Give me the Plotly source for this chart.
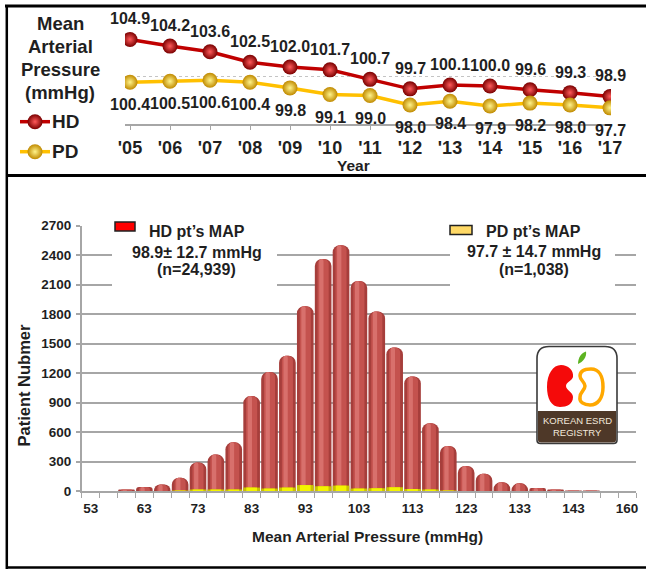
import plotly.graph_objects as go

W, H = 646, 570
FONT = "Liberation Sans, Arial, sans-serif"
INK = "#1f1f1f"
GRID = "#A6A6A6"

# ---- yearly mean arterial pressure (top panel) ----
years = [2005, 2006, 2007, 2008, 2009, 2010, 2011, 2012, 2013, 2014, 2015, 2016, 2017]
year_labels = ["'05", "'06", "'07", "'08", "'09", "'10", "'11", "'12", "'13", "'14", "'15", "'16", "'17"]
hd_map = [104.9, 104.2, 103.6, 102.5, 102.0, 101.7, 100.7, 99.7, 100.1, 100.0, 99.6, 99.3, 98.9]
pd_map = [100.4, 100.5, 100.6, 100.4, 99.8, 99.1, 99.0, 98.0, 98.4, 97.9, 98.2, 98.0, 97.7]

# ---- MAP distribution (bottom panel) ----
map_bins = ["53", "56", "60", "63", "66", "70", "73", "76", "80", "83", "86", "90", "93", "96",
            "100", "103", "106", "110", "113", "116", "120", "123", "126", "130", "133", "136",
            "140", "143", "146", "150", "160"]
labelled_bins = ["53", "63", "73", "83", "93", "103", "113", "123", "133", "143", "160"]
hd_counts = [0, 0, 15, 40, 65, 135, 290, 370, 495, 965, 1210, 1375, 1880, 2360,
             2500, 2135, 1825, 1460, 1165, 690, 458, 255, 175, 90, 78, 30,
             15, 5, 2, 0, 0]
pd_counts = [0, 0, 0, 0, 0, 5, 8, 10, 15, 35, 25, 35, 60, 48,
             55, 25, 28, 38, 20, 8, 4, 0, 0, 0, 0, 0,
             0, 0, 0, 0, 0]
count_ticks = list(range(0, 2701, 300))

hd_summary = ["HD pt\u2019s MAP", "98.9\u00b1 12.7 mmHg", "(n=24,939)"]
pd_summary = ["PD pt\u2019s MAP", "97.7 \u00b1 14.7 mmHg", "(n=1,038)"]


def fx(x):
    return x / W


def fy(y):
    return 1 - y / H


fig = go.Figure()

# top panel lines with sphere markers
fig.add_trace(go.Scatter(
    x=years, y=hd_map, mode="lines+markers", xaxis="x", yaxis="y",
    line=dict(color="#C00000", width=3.5),
    marker=dict(size=15, color="#7A0000", gradient=dict(type="radial", color="#FF5A5A"),
                line=dict(width=0)),
    hoverinfo="skip"))
fig.add_trace(go.Scatter(
    x=years, y=pd_map, mode="lines+markers", xaxis="x", yaxis="y",
    line=dict(color="#FFC000", width=3.5),
    marker=dict(size=15, color="#C08A00", gradient=dict(type="radial", color="#FFF38A"),
                line=dict(width=0)),
    hoverinfo="skip"))

# bottom panel: layered bars give a rounded cylinder look
def cyl(values, width, color, radius, offset=None):
    kw = dict(x=map_bins, y=values, xaxis="x2", yaxis="y2", width=width,
              marker=dict(color=color, cornerradius=radius, line=dict(width=0)),
              hoverinfo="skip")
    if offset is not None:
        kw["offset"] = offset
    return go.Bar(**kw)

fig.add_trace(cyl(hd_counts, 0.93, "#A63E3B", 7))
fig.add_trace(cyl(hd_counts, 0.62, "#C4524E", 6))
fig.add_trace(cyl(hd_counts, 0.24, "#D8706C", 3, offset=-0.22))
fig.add_trace(cyl(pd_counts, 0.93, "#C8C200", 3))
fig.add_trace(cyl(pd_counts, 0.6, "#F4F400", 2))

# legend spheres on a pixel canvas
fig.add_trace(go.Scatter(
    x=[35], y=[121.7], mode="markers", xaxis="x3", yaxis="y3",
    marker=dict(size=15, color="#7A0000", gradient=dict(type="radial", color="#FF5A5A")),
    hoverinfo="skip"))
fig.add_trace(go.Scatter(
    x=[35], y=[151.7], mode="markers", xaxis="x3", yaxis="y3",
    marker=dict(size=15, color="#C08A00", gradient=dict(type="radial", color="#FFF38A")),
    hoverinfo="skip"))

annotations = []
shapes = []


def text(x, y, s, size, xanchor="center", color=INK, bold=True, angle=0, **kw):
    annotations.append(dict(
        x=x, y=y, xref="x3", yref="y3", text=s, showarrow=False,
        xanchor=xanchor, yanchor="middle", textangle=angle,
        font=dict(family=FONT, size=size, color=color, weight="bold" if bold else "normal"),
        **kw))


# value labels on the yearly lines
for yr, v in zip(years, hd_map):
    annotations.append(dict(x=yr, y=v, xref="x", yref="y", text=f"{v:.1f}", showarrow=False,
                            yshift=20.5, font=dict(family=FONT, size=16, color=INK, weight="bold")))
for yr, v in zip(years, pd_map):
    annotations.append(dict(x=yr, y=v, xref="x", yref="y", text=f"{v:.1f}", showarrow=False,
                            yshift=-22.5, font=dict(family=FONT, size=16, color=INK, weight="bold")))

# top panel title block and legend
for s, yy in zip(["Mean", "Arterial", "Pressure", "(mmHg)"], [23, 46, 69.3, 92.5]):
    text(60, yy, s, 18.5)
text(50, 121.7, "HD", 19, xanchor="left")
text(50, 151.7, "PD", 19, xanchor="left")
shapes.append(dict(type="line", xref="x3", yref="y3", x0=20, x1=50, y0=121.7, y1=121.7,
                   line=dict(color="#C00000", width=3.5), layer="below"))
shapes.append(dict(type="line", xref="x3", yref="y3", x0=20, x1=50, y0=151.7, y1=151.7,
                   line=dict(color="#FFC000", width=3.5), layer="below"))
text(353, 165.5, "Year", 15.5)

# bottom panel axis titles
text(367.5, 536, "Mean Arterial Pressure (mmHg)", 15.5)
text(23.5, 385, "Patient Nubmer", 16.5, angle=-90)

# summary boxes over the grid
for x0, x1 in [(112, 277), (450, 615)]:
    shapes.append(dict(type="rect", xref="x3", yref="y3", x0=x0, x1=x1, y0=214, y1=292,
                       fillcolor="white", line=dict(width=0), layer="above"))
shapes.append(dict(type="rect", xref="x3", yref="y3", x0=115, x1=135, y0=222, y1=231,
                   fillcolor="#FF0000", line=dict(color="#202020", width=1.5), layer="above"))
shapes.append(dict(type="rect", xref="x3", yref="y3", x0=450, x1=472, y0=225.5, y1=234.5,
                   fillcolor="#FFD966", line=dict(color="#202020", width=1.5), layer="above"))
for s, yy in zip(hd_summary, [231, 252, 269.5]):
    text(196.5, yy, s, 16)
for s, yy in zip(pd_summary, [231, 251.5, 269.5]):
    text(533.5, yy, s, 16)

# registry badge
shapes.append(dict(
    type="path", xref="x3", yref="y3", layer="above",
    path="M 549 346.5 L 605 346.5 Q 617 346.5 617 358.5 L 617 440 Q 617 443.5 613.5 443.5 "
         "L 540.5 443.5 Q 537 443.5 537 440 L 537 358.5 Q 537 346.5 549 346.5 Z",
    fillcolor="white", line=dict(color="#3A3A3A", width=1.6)))
shapes.append(dict(
    type="path", xref="x3", yref="y3", layer="above",
    path="M 538 411 L 616 411 L 616 440 Q 616 442.5 613 442.5 L 541 442.5 Q 538 442.5 538 440 Z",
    fillcolor="#4E3828", line=dict(width=0)))
shapes.append(dict(
    type="path", xref="x3", yref="y3", layer="above",
    path="M 561 365 C 568 365, 574 370, 573 377 C 572 381, 566 382, 566 386 "
         "C 566 390, 573 392, 573 397 C 573 404, 567 407, 560 407 "
         "C 551 407, 547 398, 547 387 C 547 374, 553 365, 561 365 Z",
    fillcolor="#F50A0A", line=dict(width=0)))
shapes.append(dict(
    type="path", xref="x3", yref="y3", layer="above",
    path="M 591 369 C 599 369, 603 376, 603 387 C 603 398, 598 405, 590 405 "
         "C 584 405, 579 402, 580 397 C 580 392, 585 390, 585 386 "
         "C 585 382, 580 380, 580 376 C 580 371, 585 369, 591 369 Z",
    fillcolor="white", line=dict(color="#FFA800", width=3.5)))
shapes.append(dict(
    type="path", xref="x3", yref="y3", layer="above",
    path="M 578 364 C 578 358, 581 353, 586 351.5 C 587 357, 583 362, 578 364 Z",
    fillcolor="#5DB322", line=dict(width=0)))
text(577, 420.5, "KOREAN ESRD", 9.5, color="#F2E8DC", bold=False)
text(577, 432.5, "REGISTRY", 9.5, color="#F2E8DC", bold=False)

# panel frame
for x0, y0, x1, y1, w in [(5, 6, 646, 6, 3), (6.8, 5, 6.8, 569, 2.5),
                          (6, 175.5, 646, 175.5, 2.8), (6, 567.5, 646, 567.5, 2.6)]:
    shapes.append(dict(type="line", xref="x3", yref="y3", x0=x0, y0=y0, x1=x1, y1=y1,
                       line=dict(color="#000000", width=w), layer="above"))

tick_font_top = dict(family=FONT, size=18, color=INK, weight="bold")
tick_font_bot = dict(family=FONT, size=13.5, color=INK, weight="bold")

fig.update_layout(
    width=W, height=H, margin=dict(l=0, r=0, t=0, b=0, autoexpand=False),
    paper_bgcolor="white", plot_bgcolor="rgba(0,0,0,0)",
    showlegend=False, barmode="overlay",
    xaxis=dict(domain=[fx(125), fx(611)], range=[2004.875, 2017.025], anchor="y",
               tickmode="array", tickvals=years, ticktext=year_labels, tickfont=tick_font_top,
               ticks="outside", ticklen=4, tickcolor=GRID, showline=True, linecolor=GRID,
               linewidth=1.5, showgrid=False, zeroline=False, tickangle=0, automargin=False,
               ticklabelstandoff=3),
    yaxis=dict(domain=[fy(124), fy(29)], range=[96, 106], anchor="x",
               tickmode="array", tickvals=[96, 101, 106], showticklabels=False,
               showgrid=True, gridcolor="#C4C4C4", griddash="dot", gridwidth=1.2,
               zeroline=False, showline=False, automargin=False),
    xaxis2=dict(domain=[fx(81.8), fx(636)], anchor="y2", type="category",
                categoryorder="array", categoryarray=map_bins, range=[-0.5, len(map_bins) - 0.5],
                tickmode="array", tickvals=map_bins,
                ticktext=[b if b in labelled_bins else "" for b in map_bins],
                tickson="boundaries", ticks="outside", ticklen=5, tickcolor=GRID, tickwidth=1.2,
                tickfont=tick_font_bot, showline=True, linecolor=GRID, linewidth=1.5,
                showgrid=False, zeroline=False, tickangle=0, automargin=False,
                ticklabelstandoff=4),
    yaxis2=dict(domain=[fy(491), fy(225.5)], range=[0, 2700], anchor="x2",
                tickmode="array", tickvals=count_ticks, tickfont=tick_font_bot,
                ticks="outside", ticklen=4, tickcolor=GRID, tickwidth=1.5,
                showline=True, linecolor=GRID, linewidth=1.5,
                showgrid=True, gridcolor=GRID, gridwidth=1.6, zeroline=False, automargin=False,
                ticklabelstandoff=2),
    xaxis3=dict(domain=[0, 1], range=[0, W], anchor="y3", visible=False, fixedrange=True,
                automargin=False),
    yaxis3=dict(domain=[0, 1], range=[H, 0], anchor="x3", visible=False, fixedrange=True,
                automargin=False),
    annotations=annotations, shapes=shapes,
)

fig.write_html("out.html")
